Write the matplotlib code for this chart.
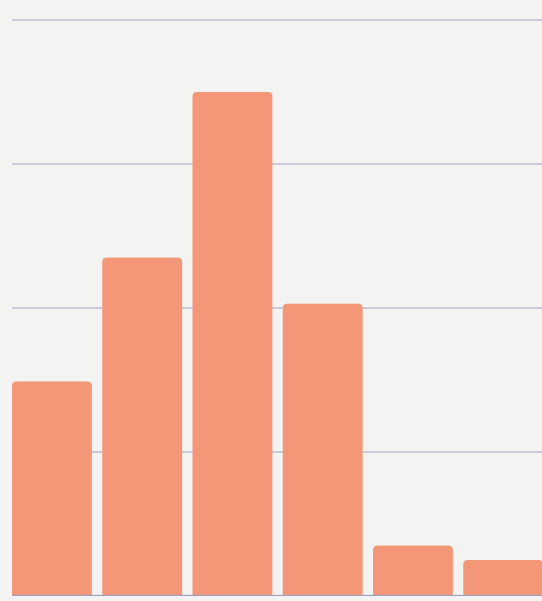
import matplotlib
matplotlib.use("Agg")
import matplotlib.pyplot as plt
from matplotlib.patches import FancyBboxPatch

categories = ["A", "B", "C", "D", "E", "F"]
values = [1.49, 2.35, 3.50, 2.03, 0.35, 0.25]
grid_values = [1, 2, 3, 4]

W, H = 542, 601
fig = plt.figure(figsize=(W / 100, H / 100), dpi=100)
bg = "#f3f3f1"
fig.patch.set_facecolor(bg)
ax = fig.add_axes([12 / W, 5 / H, (W - 12) / W, 596 / H])
ax.set_facecolor(bg)

width = 0.885
xs = list(range(len(categories)))
ax.set_xlim(-width / 2, 5.43)
ax.set_ylim(0, 596 / 144)

for yv in grid_values:
    ax.axhline(yv, color="#c9c9d6", lw=1.4, zorder=1)

# rounded bars
xunit = (W - 12) / (5.43 + width / 2)
yunit = 144
r_px = 4.5
rx = r_px / xunit
ry = r_px / yunit
for x, v in zip(xs, values):
    p = FancyBboxPatch((x - width / 2, -0.2), width, v + 0.2,
                       boxstyle=f"round,pad=0,rounding_size={rx}",
                       mutation_aspect=ry / rx,
                       facecolor="#f49779", edgecolor="none", zorder=2)
    ax.add_patch(p)

ax.axhline(0, color="#9d9dc6", lw=1.6, zorder=3)

for s in ax.spines.values():
    s.set_visible(False)
ax.set_xticks([])
ax.set_yticks([])

fig.savefig("out.png", dpi=100, facecolor=bg)
